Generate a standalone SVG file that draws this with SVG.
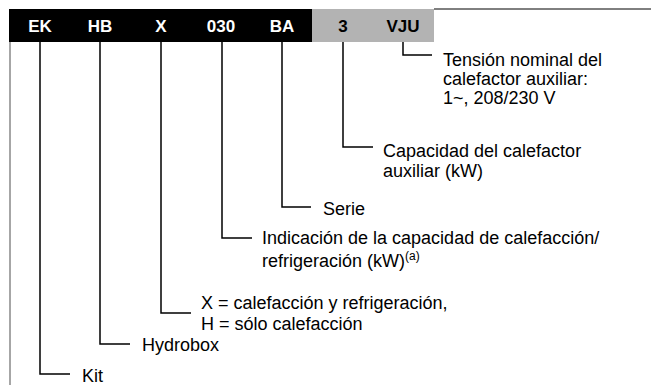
<svg xmlns="http://www.w3.org/2000/svg" width="651" height="385" viewBox="0 0 651 385">
<style>
.code{font-family:"Liberation Sans",Arial,sans-serif;font-weight:bold;font-size:17px;fill:#fff;text-anchor:middle}
.lbl{font-family:"Liberation Sans",Arial,sans-serif;font-size:18px;fill:#000}
.sup{font-size:12px}
.conn{fill:none;stroke:#000;stroke-width:1.5}
</style>
<rect width="651" height="385" fill="#fff"/>
<g id="frame">
<line x1="10" y1="9" x2="10" y2="385" stroke="#888" stroke-width="1.5"/>
<line x1="434" y1="9" x2="651" y2="9" stroke="#000" stroke-width="1"/>
<rect x="9" y="9" width="303" height="33" fill="#000"/>
<rect x="312" y="9" width="122" height="33" fill="#b3b3b3"/>
</g>
<g id="codes">
<text class="code" x="40" y="32">EK</text>
<text class="code" x="100" y="32">HB</text>
<text class="code" x="161" y="32">X</text>
<text class="code" x="221" y="32">030</text>
<text class="code" x="282" y="32">BA</text>
<text class="code" x="343" y="32" style="fill:#000">3</text>
<text class="code" x="403" y="32" style="fill:#000">VJU</text>
</g>
<g id="connectors" class="conn">
<polyline points="403,42 403,55 432,55"/>
<polyline points="343,42 343,147 373,147"/>
<polyline points="282,42 282,207 311,207"/>
<polyline points="222,42 222,238 252,238"/>
<polyline points="161,42 161,313 191,313"/>
<polyline points="100,42 100,344 130,344"/>
<polyline points="40,42 40,374 70,374"/>
</g>
<g id="n-vju">
<text class="lbl" x="443" y="66">Tensión nominal del<tspan x="443" dy="19">calefactor auxiliar:</tspan><tspan x="443" dy="19">1~, 208/230 V</tspan></text>
</g>
<g id="n-3">
<text class="lbl" x="383" y="157">Capacidad del calefactor<tspan x="383" dy="20">auxiliar (kW)</tspan></text>
</g>
<g id="n-ba">
<text class="lbl" x="323" y="215">Serie</text>
</g>
<g id="n-030">
<text class="lbl" x="262" y="244">Indicación de la capacidad de calefacción/<tspan x="262" dy="23">refrigeración (kW)</tspan><tspan class="sup" dy="-7">(a)</tspan></text>
</g>
<g id="n-x">
<text class="lbl" x="201" y="309">X = calefacción y refrigeración,<tspan x="201" dy="21">H = sólo calefacción</tspan></text>
</g>
<g id="n-hb">
<text class="lbl" x="142" y="351">Hydrobox</text>
</g>
<g id="n-ek">
<text class="lbl" x="82" y="382">Kit</text>
</g>
</svg>
